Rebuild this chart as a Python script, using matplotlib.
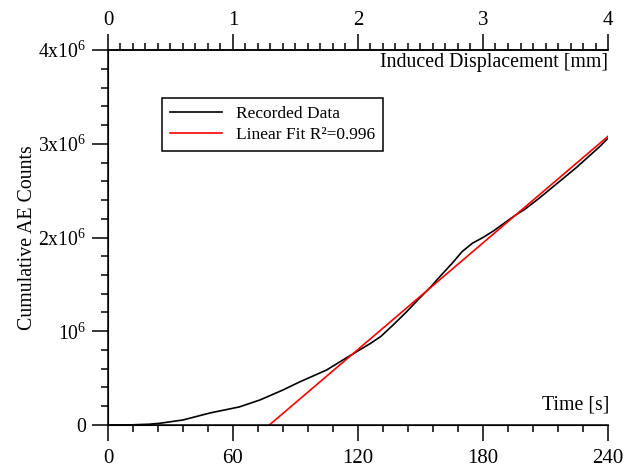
import matplotlib
matplotlib.use("Agg")
import matplotlib.pyplot as plt
from matplotlib.ticker import MultipleLocator

plt.rcParams['font.family'] = ['Liberation Serif', 'DejaVu Serif']
plt.rcParams['mathtext.fontset'] = 'custom'
plt.rcParams['mathtext.rm'] = 'Liberation Serif'
plt.rcParams['mathtext.it'] = 'Liberation Serif:italic'

# recorded AE data (time in s, counts)
time_rec = [0, 10, 20, 25, 36, 49, 63, 73, 84, 92, 105, 114, 120, 126, 131,
            137, 143, 149, 155, 160, 165, 170, 175, 180, 185, 190, 195, 200,
            207, 213, 219, 225, 231, 236, 240]
counts_rec = [0, 0, 0.008e6, 0.018e6, 0.053e6, 0.128e6, 0.192e6, 0.267e6,
              0.373e6, 0.459e6, 0.587e6, 0.71e6, 0.79e6, 0.87e6, 0.945e6,
              1.07e6, 1.20e6, 1.34e6, 1.475e6, 1.60e6, 1.72e6, 1.85e6,
              1.94e6, 2.0e6, 2.07e6, 2.15e6, 2.23e6, 2.30e6, 2.42e6, 2.53e6,
              2.64e6, 2.75e6, 2.87e6, 2.97e6, 3.06e6]

# linear fit
time_fit = [77.5, 240]
counts_fit = [0, 3.08e6]

x_ticks = [0, 60, 120, 180, 240]
y_ticks = [0, 1e6, 2e6, 3e6, 4e6]
y_labels = ['0', r'10$^{6}$', r'2x10$^{6}$', r'3x10$^{6}$', r'4x10$^{6}$']
disp_ticks = [0, 1, 2, 3, 4]

fig = plt.figure(figsize=(6.35, 4.68), dpi=100)
ax = fig.add_axes([0.170, 0.092, 0.7875, 0.801])

ax.plot(time_rec, counts_rec, color='black', lw=1.2, label='Recorded Data')
ax.plot(time_fit, counts_fit, color='#ff0000', lw=1.2, label='Linear Fit R²=0.996')

ax.set_xlim(0, 240)
ax.set_ylim(0, 4e6)
ax.set_xticks(x_ticks)
ax.xaxis.set_minor_locator(MultipleLocator(12))
ax.set_yticks(y_ticks)
ax.set_yticklabels(y_labels)
ax.yaxis.set_minor_locator(MultipleLocator(0.2e6))

for s in ['left', 'bottom', 'top']:
    ax.spines[s].set_linewidth(1.1)
ax.spines['right'].set_visible(False)
ax.tick_params(which='major', direction='out', length=11.5, width=1.1, pad=4)
ax.tick_params(which='minor', direction='out', length=5, width=1.1)
ax.tick_params(axis='x', labelsize=15, pad=6)
ax.tick_params(axis='y', labelsize=14.2)

ax.set_ylabel('Cumulative AE Counts', fontsize=14.3, labelpad=1)
ax.text(1.003, 0.028, 'Time [s]', transform=ax.transAxes, ha='right', va='bottom', fontsize=14.3)

# top axis: induced displacement
ax2 = ax.twiny()
ax2.set_xlim(0, 4)
ax2.set_xticks(disp_ticks)
ax2.xaxis.set_minor_locator(MultipleLocator(0.1))
ax2.spines['right'].set_visible(False)
ax2.spines['top'].set_linewidth(1.1)
ax2.tick_params(which='major', direction='out', length=11.5, width=1.1, labelsize=15, pad=3)
ax2.tick_params(which='minor', direction='out', length=5, width=1.1)
ax.text(0.999, 0.967, 'Induced Displacement [mm]', transform=ax.transAxes,
        ha='right', va='center', fontsize=14.3)

leg = ax.legend(loc='upper left', bbox_to_anchor=(0.108, 0.872), borderaxespad=0,
                fancybox=False, edgecolor='black', framealpha=1, fontsize=12.5,
                handlelength=3.0, handletextpad=0.8, borderpad=0.45, labelspacing=0.3)
leg.get_frame().set_linewidth(1.1)

fig.savefig('out.png', dpi=100)
